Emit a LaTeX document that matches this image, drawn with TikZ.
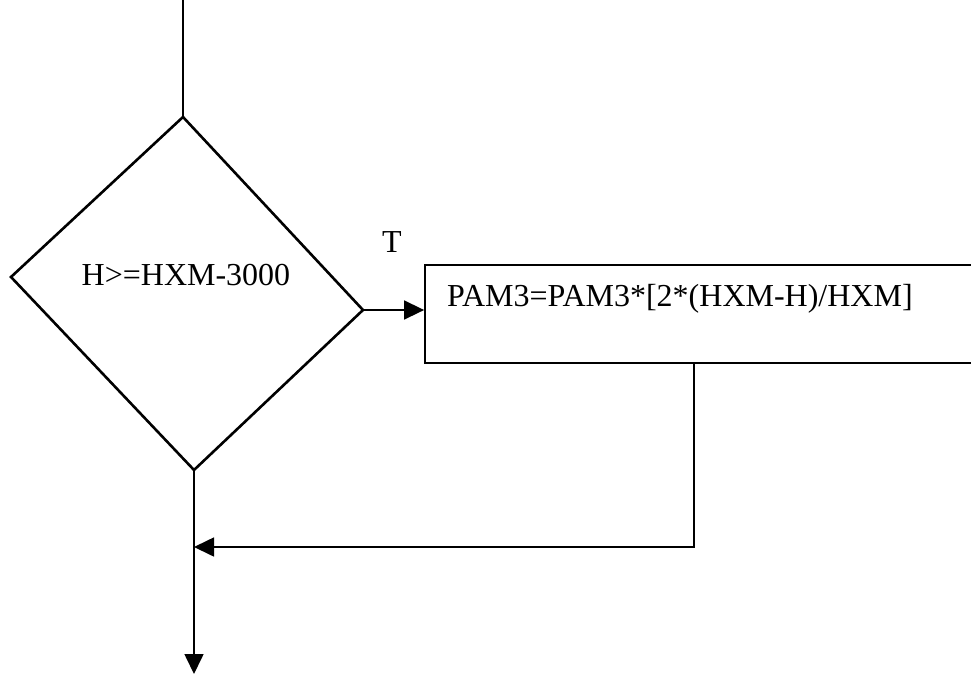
\documentclass[tikz,border=0pt]{standalone}
\usepackage{fontspec}
\setmainfont{Liberation Serif}
\usetikzlibrary{arrows.meta}
\tikzset{
  lbl/.style={inner sep=0pt, font=\fontsize{32}{36}\selectfont},
  conn/.style={line width=1.6pt},
  arr/.style={conn, -{Triangle[length=20pt,width=19pt]}},
  decis/.style={line width=2.6pt, line join=miter},
  procbox/.style={draw, line width=1.8pt, rectangle, minimum width=565pt, minimum height=98pt, inner sep=0pt}
}
\begin{document}
\begin{tikzpicture}[x=1pt,y=1pt]
\useasboundingbox (0,0) rectangle (971,-675);
% decision (diamond as drawn, slightly skewed)
\coordinate (dtop) at (183,-117);
\coordinate (dright) at (363,-310);
\coordinate (dbottom) at (194,-470);
\coordinate (dleft) at (11,-277);
\draw[decis] (dtop) -- (dright) -- (dbottom) -- (dleft) -- cycle;
\node[lbl, anchor=base] (cond) at (186,-285) {H>=HXM-3000};
% entry line
\coordinate (start) at (183,0);
\draw[conn] (start) -- (dtop);
% process box
\node[procbox] (box) at (707.5,-314) {};
\node[lbl, anchor=base west] (boxtext) at (447,-306) {PAM3=PAM3*[2*(HXM-H)/HXM]};
% T branch
\draw[arr] (dright) -- (dright -| box.west);
\node[lbl, anchor=base] (tlabel) at (392,-252) {T};
% merge and exit
\coordinate (merge) at (194,-547);
\coordinate (exit) at (194,-674);
\coordinate (boxout) at (694,-363);
\draw[arr] (boxout) -- (boxout |- merge) -- (merge);
\draw[arr] (dbottom) -- (exit);
\end{tikzpicture}
\end{document}
